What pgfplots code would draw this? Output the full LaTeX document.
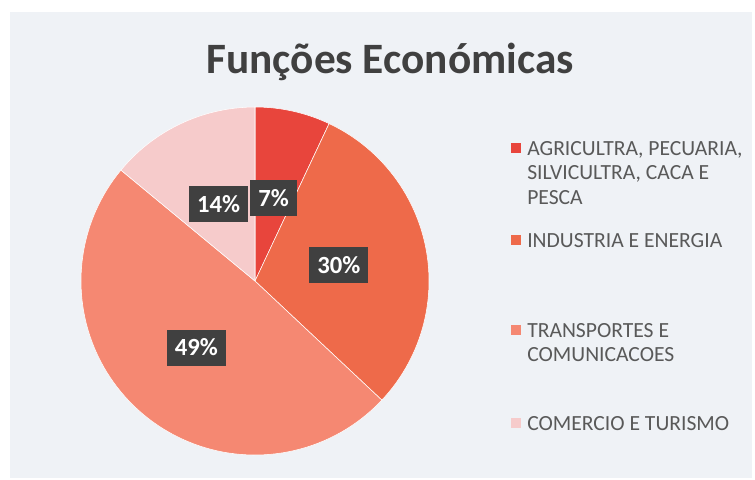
\documentclass[border=0pt]{standalone}
\usepackage{pgfplots}
\pgfplotsset{compat=1.18}
\usepackage{fontspec}
\setmainfont{Carlito}
\definecolor{cA}{HTML}{E8453C}
\definecolor{cB}{HTML}{EE6A4A}
\definecolor{cC}{HTML}{F58872}
\definecolor{cD}{HTML}{F6CBCB}
\definecolor{labgray}{HTML}{404040}
\definecolor{txtgray}{HTML}{595959}
\definecolor{panel}{HTML}{EFF2F6}
% data (percent)
\def\vA{7}\def\vB{30}\def\vC{49}\def\vD{14}
\pgfmathsetmacro\aA{90}
\pgfmathsetmacro\aB{\aA-3.6*\vA}
\pgfmathsetmacro\aC{\aB-3.6*\vB}
\pgfmathsetmacro\aD{\aC-3.6*\vC}
\pgfmathsetmacro\aE{\aD-3.6*\vD}
\pgfmathsetmacro\mA{(\aA+\aB)/2}
\pgfmathsetmacro\mB{(\aB+\aC)/2}
\pgfmathsetmacro\mC{(\aC+\aD)/2}
\pgfmathsetmacro\mD{(\aD+\aE)/2}
\begin{document}
\begin{tikzpicture}[x=0.75pt,y=-0.75pt]
\useasboundingbox (0,0) rectangle (755,479);
\fill[white] (0,0) rectangle (755,479);
\fill[panel] (10,12) rectangle (752,478);
\node[anchor=base, font=\bfseries\fontsize{32.5}{38}\selectfont, text=labgray] at (390,73) {Funções Económicas};
\begin{axis}[hide axis, clip=false, x=130.5pt, y=130.5pt,
  xmin=-1.05, xmax=1.05, ymin=-1.05, ymax=1.05,
  anchor=origin, at={(191.25pt,-210.75pt)}]
\addplot[fill=cA, draw=white, line width=0.4pt, domain=\aB:\aA, samples=30, variable=\t] ({cos(t)},{sin(t)}) -- (axis cs:0,0) -- cycle;
\addplot[fill=cB, draw=white, line width=0.4pt, domain=\aC:\aB, samples=60, variable=\t] ({cos(t)},{sin(t)}) -- (axis cs:0,0) -- cycle;
\addplot[fill=cC, draw=white, line width=0.4pt, domain=\aD:\aC, samples=90, variable=\t] ({cos(t)},{sin(t)}) -- (axis cs:0,0) -- cycle;
\addplot[fill=cD, draw=white, line width=0.4pt, domain=\aE:\aD, samples=30, variable=\t] ({cos(t)},{sin(t)}) -- (axis cs:0,0) -- cycle;
\tikzset{lab/.style={fill=labgray, text=white, font=\bfseries\fontsize{18.5}{18.5}\selectfont, inner xsep=6pt, inner ysep=0pt, minimum height=27pt}}
\node[lab] at (axis cs:{0.49*cos(\mA)},{0.49*sin(\mA)}) {\vA\%};
\node[lab] at (axis cs:{0.49*cos(\mB)},{0.49*sin(\mB)}) {\vB\%};
\node[lab] at (axis cs:{0.51*cos(\mC)},{0.51*sin(\mC)}) {\vC\%};
\node[lab] at (axis cs:{0.49*cos(\mD)},{0.49*sin(\mD)}) {\vD\%};
\end{axis}
% legend
\tikzset{lg/.style={anchor=base west, inner sep=0pt, text=txtgray, font=\fontsize{16.2}{18}\selectfont}}
\fill[cA] (511,143) rectangle (521,153);
\node[lg] at (527,155) {AGRICULTRA, PECUARIA,};
\node[lg] at (527,179.5) {SILVICULTRA, CACA E};
\node[lg] at (527,204) {PESCA};
\fill[cB] (511,235) rectangle (521,245);
\node[lg] at (527,247) {INDUSTRIA E ENERGIA};
\fill[cC] (511,325) rectangle (521,335);
\node[lg] at (527,337) {TRANSPORTES E};
\node[lg] at (527,361.5) {COMUNICACOES};
\fill[cD] (511,418) rectangle (521,428);
\node[lg] at (527,430) {COMERCIO E TURISMO};
\end{tikzpicture}
\end{document}
